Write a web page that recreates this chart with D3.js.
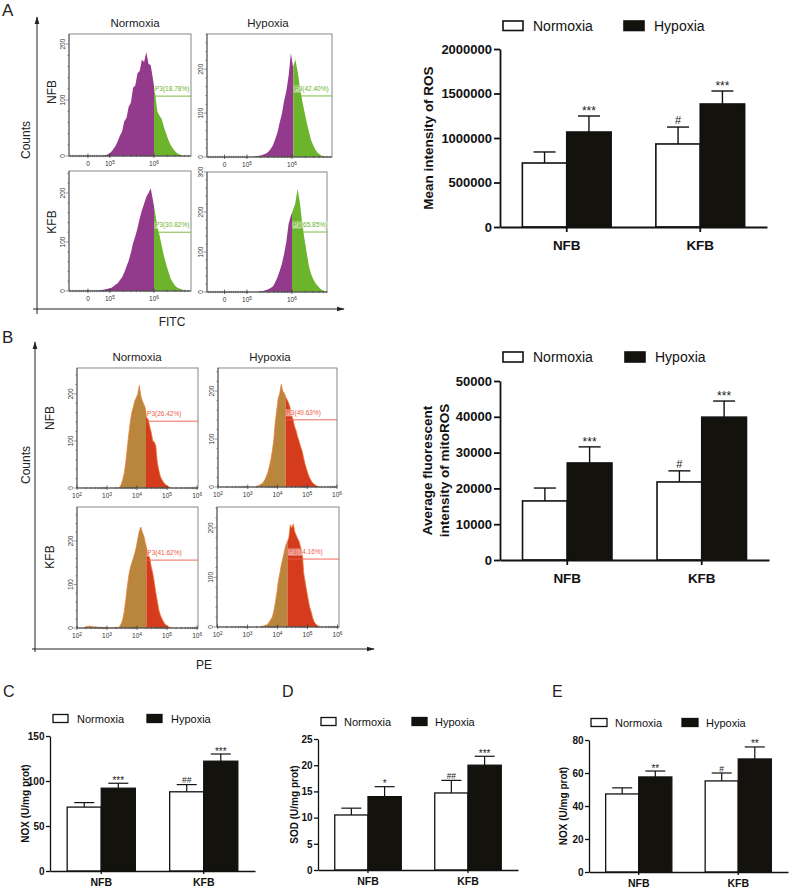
<!DOCTYPE html>
<html><head><meta charset="utf-8">
<script src="https://cdn.jsdelivr.net/npm/d3@7"></script>
<style>
body{margin:0;background:#fff}
svg{display:block}
text{font-family:"Liberation Sans",Arial,Helvetica,sans-serif}
</style>
</head><body>
<svg id="fig" width="790" height="888"></svg>
<script>
// ===================== DATA =====================
const groups = ["NFB", "KFB"];
const conditions = ["Normoxia", "Hypoxia"];

// Panel A bar chart: mean intensity of ROS
const rosNormoxia = [719000, 933000];
const rosNormoxiaErr = [124000, 190000];
const rosHypoxia = [1067000, 1382000];
const rosHypoxiaErr = [180000, 146000];
const rosSigNormoxia = ["", "#"];
const rosSigHypoxia = ["***", "***"];
const rosTicks = [0, 500000, 1000000, 1500000, 2000000];

// Panel B bar chart: mitoROS
const mitoNormoxia = [16500, 21800];
const mitoNormoxiaErr = [3600, 3100];
const mitoHypoxia = [27100, 39900];
const mitoHypoxiaErr = [4500, 4500];
const mitoSigNormoxia = ["", "#"];
const mitoSigHypoxia = ["***", "***"];
const mitoTicks = [0, 10000, 20000, 30000, 40000, 50000];

// Panel C: NOX
const noxCNormoxia = [71, 88];
const noxCNormoxiaErr = [5, 8];
const noxCHypoxia = [92, 122];
const noxCHypoxiaErr = [5.5, 8];
const noxCSigNormoxia = ["", "##"];
const noxCSigHypoxia = ["***", "***"];
const noxCTicks = [0, 50, 100, 150];

// Panel D: SOD
const sodNormoxia = [10.5, 14.7];
const sodNormoxiaErr = [1.3, 2.4];
const sodHypoxia = [14.0, 20.0];
const sodHypoxiaErr = [1.9, 1.7];
const sodSigNormoxia = ["", "##"];
const sodSigHypoxia = ["*", "***"];
const sodTicks = [0, 5, 10, 15, 20, 25];

// Panel E: NOX
const noxENormoxia = [47.3, 55.2];
const noxENormoxiaErr = [3.7, 4.8];
const noxEHypoxia = [57.6, 68.5];
const noxEHypoxiaErr = [3.6, 7.3];
const noxESigNormoxia = ["", "#"];
const noxESigHypoxia = ["**", "**"];
const noxETicks = [0, 20, 40, 60, 80];

// Flow cytometry histograms (counts per 0.05-decade bin), order: NFB-Normoxia, NFB-Hypoxia, KFB-Normoxia, KFB-Hypoxia
const histStep = 0.05;
const fitcStart = [4.80, 5.10, 4.70, 5.20];
const fitcNFBNormoxia = [0,1,2,4,7,12,18,26,36,44,62,68,88,95,122,126,148,152,172,168,186,165,162,138,112,80,72,66,52,40,29,20,14,9,5,3,1,0];
const fitcNFBHypoxia = [0,1,2,3,4,6,8,12,18,26,40,55,78,98,128,150,185,236,205,222,195,160,130,104,80,58,38,26,16,9,5,2,1,0];
const fitcKFBNormoxia = [0,1,2,3,4,5,6,9,13,16,22,28,38,50,62,78,98,112,128,148,165,178,192,200,210,186,160,132,114,92,72,55,40,26,18,11,7,5,3,2,1,0];
const fitcKFBHypoxia = [0,1,2,3,5,7,10,14,24,36,52,70,95,125,170,190,205,222,258,225,175,135,100,66,45,32,22,15,9,5,2,1,0];
const fitcGate = [6.0, 6.03, 6.0, 6.0];
const fitcGateLevel = [107, 139, 120, 150];
const fitcGateLabels = ["P3(18.78%)", "P3(42.40%)", "P3(30.82%)", "P3(65.85%)"];
const fitcYMax = [218, 280, 245, 300];
const fitcYTicks = [[0,100,200],[0,100,200],[0,100,200],[0,100,200,300]];
const fitcTickValues = [4.5, 5, 6];
const fitcTickLabels = [["0",""], ["10","5"], ["10","6"]];

const peStart = [3.35, 3.25, 2.20, 3.40];
const peNFBNormoxia = [0,2,8,18,32,55,85,115,140,160,172,185,192,200,218,196,185,178,170,150,145,130,118,100,98,90,55,38,25,18,13,9,6,4,2,1,0];
const peNFBHypoxia = [0,2,3,5,7,10,15,22,30,42,56,75,98,135,160,185,195,214,200,196,188,182,175,165,150,140,126,118,105,96,85,76,62,48,38,28,20,14,9,6,4,2,1,0];
const peKFBNormoxia = [0,2,4,3,5,3,4,2,3,2,1,2,1,0,0,1,0,0,1,0,1,0,1,1,4,10,20,38,65,95,120,138,150,160,172,186,205,222,232,220,212,195,182,172,160,140,126,105,82,62,42,30,22,15,10,6,4,2,1,0];
const peKFBHypoxia = [0,1,2,3,4,6,10,15,20,32,48,68,92,108,125,138,152,165,172,180,206,200,208,192,185,178,172,160,150,108,90,72,55,40,30,18,10,6,3,2,0];
const peGate = [4.30, 4.27, 4.31, 4.33];
const peGateLevel = [142, 140, 156, 137];
const peGateLabels = ["P3(26.42%)", "P3(49.63%)", "P3(41.62%)", "P3(74.16%)"];
const peYMax = [255, 248, 278, 242];
const peYTicks = [[0,100,200],[0,100,200],[0,100,200],[0,100,200]];
const peTickValues = [2, 3, 4, 5, 6];
const peTickLabels = [["10","2"], ["10","3"], ["10","4"], ["10","5"], ["10","6"]];

// ===================== DRAWING =====================
const svg = d3.select("#fig");
const defs = svg.append("defs");
defs.append("marker").attr("id", "arrow")
  .attr("viewBox", "0 0 10 10").attr("refX", 9).attr("refY", 5)
  .attr("markerWidth", 8).attr("markerHeight", 8).attr("markerUnits", "userSpaceOnUse")
  .attr("orient", "auto")
  .append("path").attr("d", "M0,2 L10,5 L0,8 Z").attr("fill", "#222");

function txt(g, x, y, s, opt = {}) {
  const t = g.append("text").attr("x", x).attr("y", y).text(s)
    .attr("font-size", opt.size || 12)
    .attr("fill", opt.fill || "#222")
    .attr("text-anchor", opt.anchor || "start");
  if (opt.weight) t.attr("font-weight", opt.weight);
  if (opt.rotate) {
    t.attr("x", 0).attr("y", 0).attr("transform", `translate(${x},${y}) rotate(-90)`);
  }
  if (opt.baseline) t.attr("dominant-baseline", opt.baseline);
  return t;
}

function arrow(x1, y1, x2, y2) {
  svg.append("line").attr("x1", x1).attr("y1", y1).attr("x2", x2).attr("y2", y2)
    .attr("stroke", "#222").attr("stroke-width", 1).attr("marker-end", "url(#arrow)");
}

let clipId = 0;
function flowPanel(p) {
  const g = svg.append("g");
  const x = d3.scaleLinear().domain(p.xDom).range([p.x0, p.x1]);
  const y = d3.scaleLinear().domain([0, p.yMax]).range([p.y1, p.y0]);
  const gx = x(p.gate);
  const idL = "clipL" + (clipId), idR = "clipR" + (clipId++);
  defs.append("clipPath").attr("id", idL).append("rect")
    .attr("x", p.x0).attr("y", p.y0).attr("width", gx - p.x0).attr("height", p.y1 - p.y0);
  defs.append("clipPath").attr("id", idR).append("rect")
    .attr("x", gx).attr("y", p.y0).attr("width", p.x1 - gx).attr("height", p.y1 - p.y0);
  const pts = p.values.map((v, i) => [p.start + (i + 0.5) * histStep, v]);
  const area = d3.area().x(d => x(d[0])).y0(y(0)).y1(d => y(d[1])).curve(d3.curveLinear);
  g.append("path").datum(pts).attr("d", area).attr("fill", p.colL).attr("clip-path", `url(#${idL})`);
  g.append("path").datum(pts).attr("d", area).attr("fill", p.colR).attr("clip-path", `url(#${idR})`);
  if (p.edge) {
    const line = d3.line().x(d => x(d[0])).y(d => y(d[1])).curve(d3.curveLinear);
    g.append("path").datum(pts).attr("d", line).attr("fill", "none")
      .attr("stroke", p.edge).attr("stroke-width", 0.8).attr("opacity", 0.9);
  }
  // frame
  g.append("rect").attr("x", p.x0).attr("y", p.y0).attr("width", p.x1 - p.x0).attr("height", p.y1 - p.y0)
    .attr("fill", "none").attr("stroke", "#7a7a7a").attr("stroke-width", 0.9);
  g.append("line").attr("x1", p.x0).attr("x2", p.x1).attr("y1", p.y1).attr("y2", p.y1)
    .attr("stroke", "#444").attr("stroke-width", 0.9);
  g.append("line").attr("x1", p.x0).attr("x2", p.x0).attr("y1", p.y0).attr("y2", p.y1)
    .attr("stroke", "#555").attr("stroke-width", 0.9);
  // gate
  const gy = y(p.gateLevel);
  g.append("line").attr("x1", gx).attr("x2", p.x1).attr("y1", gy).attr("y2", gy)
    .attr("stroke", p.gateCol).attr("stroke-width", 0.9);
  const lt = txt(g, gx + 1, gy - 5, p.label, { size: 6.5, fill: p.gateCol });
  const bb = lt.node().getBBox();
  g.insert("rect", "text:last-of-type").attr("x", bb.x - 0.5).attr("y", bb.y + 0.5)
    .attr("width", bb.width + 1).attr("height", bb.height - 1)
    .attr("fill", "#fff").attr("opacity", 0.55);
  lt.raise();
  // y ticks
  for (let c = 0; c <= p.yMax; c += 20) {
    const major = p.yTicks.includes(c);
    g.append("line").attr("x1", p.x0 - (major ? 3 : 1.6)).attr("x2", p.x0)
      .attr("y1", y(c)).attr("y2", y(c)).attr("stroke", "#555").attr("stroke-width", 0.6);
  }
  p.yTicks.forEach(t => {
    txt(g, p.x0 - 7, y(t), String(t), { size: 6.5, fill: "#333", anchor: "middle", rotate: true, baseline: "central" });
  });
  // x minor ticks
  p.minor.forEach(v => {
    if (v > p.xDom[0] && v < p.xDom[1])
      g.append("line").attr("x1", x(v)).attr("x2", x(v)).attr("y1", p.y1 - 1.2).attr("y2", p.y1 + 1.2)
        .attr("stroke", "#444").attr("stroke-width", 0.5);
  });
  p.ticks.forEach((tv, i) => {
    g.append("line").attr("x1", x(tv)).attr("x2", x(tv)).attr("y1", p.y1 - 2.5).attr("y2", p.y1 + 2)
      .attr("stroke", "#333").attr("stroke-width", 0.7);
    const lab = p.tickLabels[i];
    const t = txt(g, x(tv), p.y1 + 10, lab[0], { size: 6.5, fill: "#333", anchor: "middle" });
    if (lab[1]) t.append("tspan").attr("dy", -2.5).attr("font-size", 4.8).text(lab[1]);
  });
}

// ---------- Panel A flow ----------
txt(svg, 2, 16, "A", { size: 17 });
arrow(37, 314, 37, 17);
arrow(33, 309, 344, 309);
txt(svg, 26, 140, "Counts", { size: 12, anchor: "middle", rotate: true, baseline: "central" });
txt(svg, 172, 326, "FITC", { size: 12, anchor: "middle" });
txt(svg, 135, 27, "Normoxia", { size: 11.5, anchor: "middle" });
txt(svg, 268, 27, "Hypoxia", { size: 11.5, anchor: "middle" });
txt(svg, 52, 92, "NFB", { size: 12, anchor: "middle", rotate: true, baseline: "central" });
txt(svg, 52, 222, "KFB", { size: 12, anchor: "middle", rotate: true, baseline: "central" });

const fitcMinor = [];
for (let v = 4.1; v < 5.0; v += 0.05) fitcMinor.push(v);
[5, 6].forEach(d => { for (let k = 2; k <= 9; k++) fitcMinor.push(d + Math.log10(k)); });
const peMinor = [];
[2, 3, 4, 5].forEach(d => { for (let k = 2; k <= 9; k++) peMinor.push(d + Math.log10(k)); });

const fitcBoxes = [
  { x0: 69, x1: 191, y0: 34, y1: 156, xDom: [4.07, 6.84] },
  { x0: 207, x1: 332, y0: 34, y1: 157, xDom: [4.11, 6.89] },
  { x0: 69, x1: 191, y0: 171, y1: 291, xDom: [4.07, 6.84] },
  { x0: 207, x1: 327, y0: 172, y1: 292, xDom: [4.11, 6.78] }
];
const fitcHists = [fitcNFBNormoxia, fitcNFBHypoxia, fitcKFBNormoxia, fitcKFBHypoxia];
fitcBoxes.forEach((b, i) => flowPanel(Object.assign({}, b, {
  yMax: fitcYMax[i], yTicks: fitcYTicks[i], values: fitcHists[i], start: fitcStart[i],
  gate: fitcGate[i], gateLevel: fitcGateLevel[i], label: fitcGateLabels[i],
  colL: "#943a8c", colR: "#6cb42c", gateCol: "#6cb42c", edge: null,
  ticks: fitcTickValues, tickLabels: fitcTickLabels, minor: fitcMinor
})));

// ---------- Panel B flow ----------
txt(svg, 2, 343, "B", { size: 17 });
arrow(35, 652, 35, 342);
arrow(32, 649, 374, 649);
txt(svg, 26, 465, "Counts", { size: 12, anchor: "middle", rotate: true, baseline: "central" });
txt(svg, 204, 669, "PE", { size: 12, anchor: "middle" });
txt(svg, 137, 361, "Normoxia", { size: 11.5, anchor: "middle" });
txt(svg, 270, 361, "Hypoxia", { size: 11.5, anchor: "middle" });
txt(svg, 50, 418, "NFB", { size: 12, anchor: "middle", rotate: true, baseline: "central" });
txt(svg, 50, 557, "KFB", { size: 12, anchor: "middle", rotate: true, baseline: "central" });

const peBoxes = [
  { x0: 77, x1: 198, y0: 368, y1: 488, xDom: [2, 6.03] },
  { x0: 218, x1: 337, y0: 368, y1: 487, xDom: [2, 6] },
  { x0: 77, x1: 198, y0: 507, y1: 628, xDom: [2, 6.03] },
  { x0: 217, x1: 339, y0: 507, y1: 627, xDom: [1.98, 6.05] }
];
const peHists = [peNFBNormoxia, peNFBHypoxia, peKFBNormoxia, peKFBHypoxia];
peBoxes.forEach((b, i) => flowPanel(Object.assign({}, b, {
  yMax: peYMax[i], yTicks: peYTicks[i], values: peHists[i], start: peStart[i],
  gate: peGate[i], gateLevel: peGateLevel[i], label: peGateLabels[i],
  colL: "#b8863c", colR: "#d53b1d", gateCol: "#ee5a48", edge: "#f07d33",
  ticks: peTickValues, tickLabels: peTickLabels, minor: peMinor
})));

// ---------- Bar charts ----------
function barChart(c) {
  const g = svg.append("g");
  const y = d3.scaleLinear().domain([0, c.ticks[c.ticks.length - 1]]).range([c.bottom, c.top]);
  const x0 = d3.scaleBand().domain(groups).range([c.left, c.right]).paddingInner(0.335).paddingOuter(0.1675);
  const x1 = d3.scaleBand().domain(conditions).range([0, x0.bandwidth()]);
  const series = [
    { cond: "Normoxia", vals: c.norm, errs: c.normErr, sig: c.normSig, fill: "#ffffff" },
    { cond: "Hypoxia", vals: c.hyp, errs: c.hypErr, sig: c.hypSig, fill: "#13120c" }
  ];
  const bw = x1.bandwidth();
  series.forEach(s => {
    groups.forEach((grp, i) => {
      const xl = x0(grp) + x1(s.cond);
      const cx = xl + bw / 2;
      const top = y(s.vals[i]);
      const et = y(s.vals[i] + s.errs[i]);
      g.append("line").attr("x1", cx).attr("x2", cx).attr("y1", top).attr("y2", et)
        .attr("stroke", "#111").attr("stroke-width", c.lw);
      g.append("line").attr("x1", cx - c.cap / 2).attr("x2", cx + c.cap / 2).attr("y1", et).attr("y2", et)
        .attr("stroke", "#111").attr("stroke-width", c.lw);
      g.append("rect").attr("x", xl).attr("y", top).attr("width", bw).attr("height", y(0) - top)
        .attr("fill", s.fill).attr("stroke", "#111").attr("stroke-width", c.bsw);
      if (s.sig[i]) {
        const isStar = s.sig[i].indexOf("*") >= 0;
        txt(g, cx, et - c.sigOff + (isStar ? c.starShift : 0), s.sig[i],
          { size: isStar ? c.starSize : c.hashSize, anchor: "middle", fill: "#222" });
      }
    });
  });
  // axes
  const ya = d3.axisLeft(y).tickValues(c.ticks).tickSize(c.tick).tickSizeOuter(0).tickPadding(c.pad).tickFormat(d3.format("d"));
  const yg = g.append("g").attr("transform", `translate(${c.left},0)`).call(ya);
  const xa = d3.axisBottom(x0).tickSize(c.tick - 1).tickSizeOuter(0).tickPadding(c.xpad);
  const xg = g.append("g").attr("transform", `translate(0,${c.bottom})`).call(xa);
  [yg, xg].forEach(a => {
    a.select(".domain").attr("stroke", "#111").attr("stroke-width", c.aw);
    a.selectAll(".tick line").attr("stroke", "#111").attr("stroke-width", c.aw);
    a.selectAll(".tick text").attr("font-weight", "bold").attr("fill", "#111")
      .attr("font-family", '"Liberation Sans",Arial,sans-serif');
  });
  yg.selectAll(".tick text").attr("font-size", c.tickFont);
  xg.selectAll(".tick text").attr("font-size", c.catFont);
  // y label
  c.yLabel.forEach((s, i) => {
    txt(g, c.yLabelX[i], (c.top + c.bottom) / 2 + (c.yLabelDy || 0), s,
      { size: c.labFont, weight: "bold", anchor: "middle", rotate: true, baseline: "central", fill: "#111" });
  });
  // legend
  const L = c.legend;
  conditions.forEach((cond, i) => {
    g.append("rect").attr("x", L.x[i]).attr("y", L.y).attr("width", L.w).attr("height", L.h)
      .attr("fill", i === 0 ? "#fff" : "#13120c").attr("stroke", "#111").attr("stroke-width", c.bsw);
    txt(g, L.x[i] + L.w + L.gap, L.y + L.h / 2, cond, { size: L.font, baseline: "central", fill: "#111" });
  });
}

// A bar chart
barChart({
  left: 500, right: 767, top: 49, bottom: 227, ticks: rosTicks,
  norm: rosNormoxia, normErr: rosNormoxiaErr, normSig: rosSigNormoxia,
  hyp: rosHypoxia, hypErr: rosHypoxiaErr, hypSig: rosSigHypoxia,
  lw: 1.4, bsw: 1.6, aw: 1.8, cap: 22, tick: 6, pad: 2, xpad: 8,
  tickFont: 13, catFont: 13.5, labFont: 13.5, starSize: 12, hashSize: 11, sigOff: 3, starShift: 2,
  yLabel: ["Mean intensity of ROS"], yLabelX: [428],
  legend: { x: [503, 624], y: 21, w: 20, h: 9.5, gap: 10, font: 14 }
});
// B bar chart
barChart({
  left: 500, right: 769, top: 381, bottom: 560, ticks: mitoTicks,
  norm: mitoNormoxia, normErr: mitoNormoxiaErr, normSig: mitoSigNormoxia,
  hyp: mitoHypoxia, hypErr: mitoHypoxiaErr, hypSig: mitoSigHypoxia,
  lw: 1.4, bsw: 1.6, aw: 1.8, cap: 22, tick: 6, pad: 2, xpad: 8,
  tickFont: 13, catFont: 13.5, labFont: 13.5, starSize: 12, hashSize: 11, sigOff: 3, starShift: 2,
  yLabel: ["Average fluorescent", "intensity of mitoROS"], yLabelX: [427, 444],
  legend: { x: [503, 625], y: 352, w: 20, h: 10, gap: 10, font: 14 }
});
// C
txt(svg, 3, 697, "C", { size: 16 });
barChart({
  left: 50, right: 255, top: 736, bottom: 871, ticks: noxCTicks,
  norm: noxCNormoxia, normErr: noxCNormoxiaErr, normSig: noxCSigNormoxia,
  hyp: noxCHypoxia, hypErr: noxCHypoxiaErr, hypSig: noxCSigHypoxia,
  lw: 1.2, bsw: 1.3, aw: 1.3, cap: 20, tick: 4, pad: 1.5, xpad: 5,
  tickFont: 10, catFont: 10.5, labFont: 10, starSize: 10, hashSize: 8.5, sigOff: 1.5, starShift: 2,
  yLabel: ["NOX (U/mg prot)"], yLabelX: [25],
  legend: { x: [53, 147], y: 714.5, w: 15, h: 8, gap: 9, font: 11 }
});
// D
txt(svg, 282, 697, "D", { size: 16 });
barChart({
  left: 318, right: 518, top: 739, bottom: 870, ticks: sodTicks,
  norm: sodNormoxia, normErr: sodNormoxiaErr, normSig: sodSigNormoxia,
  hyp: sodHypoxia, hypErr: sodHypoxiaErr, hypSig: sodSigHypoxia,
  lw: 1.2, bsw: 1.3, aw: 1.3, cap: 20, tick: 4, pad: 1.5, xpad: 5,
  tickFont: 10, catFont: 10.5, labFont: 10, starSize: 10, hashSize: 8.5, sigOff: 1.5, starShift: 2,
  yLabel: ["SOD (U/mg prot)"], yLabelX: [294],
  legend: { x: [321, 412], y: 717.5, w: 15, h: 8, gap: 8, font: 11 }
});
// E
txt(svg, 552, 697, "E", { size: 16 });
barChart({
  left: 589, right: 788, top: 740, bottom: 872, ticks: noxETicks,
  norm: noxENormoxia, normErr: noxENormoxiaErr, normSig: noxESigNormoxia,
  hyp: noxEHypoxia, hypErr: noxEHypoxiaErr, hypSig: noxESigHypoxia,
  lw: 1.2, bsw: 1.3, aw: 1.3, cap: 20, tick: 4, pad: 1.5, xpad: 5,
  tickFont: 10, catFont: 10.5, labFont: 10, starSize: 10, hashSize: 8.5, sigOff: 1.5, starShift: 2,
  yLabel: ["NOX (U/mg prot)"], yLabelX: [563],
  legend: { x: [591, 682], y: 718.5, w: 16, h: 8, gap: 8, font: 11 }
});
</script>
</body></html>
